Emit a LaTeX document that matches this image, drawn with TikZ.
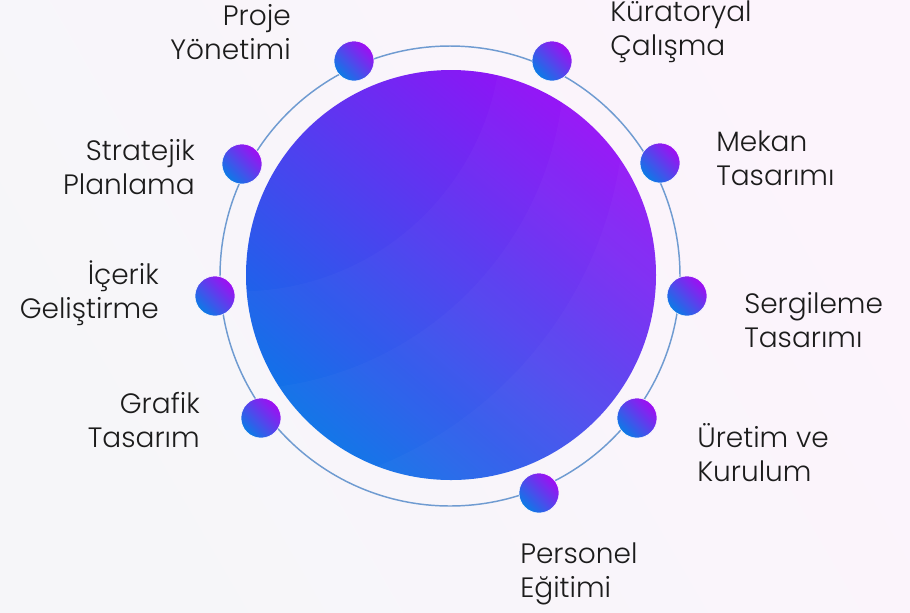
\documentclass[tikz,border=0pt]{standalone}
\usepackage{fontspec}
\setmainfont{Poppins}[UprightFont=*-Light]
\usetikzlibrary{positioning}
\definecolor{ringblue}{HTML}{6F9BD1}
\definecolor{dotblue}{HTML}{0B7BE6}
\definecolor{dotpurple}{HTML}{A00DF2}
\definecolor{hubblue}{HTML}{0A70E8}
\definecolor{hubmid}{HTML}{4A36EE}
\definecolor{hubpurple}{HTML}{9410F6}
\definecolor{labeltext}{HTML}{1C1C1C}
\definecolor{bgpink}{HTML}{FCF4FC}
\definecolor{bggray}{HTML}{F6F6F9}
\tikzset{
  dot/.style={circle,minimum size=30pt,inner sep=0pt,bottom color=dotblue,top color=dotpurple,shading angle=-45,draw=white,line width=.4pt},
  lbl/.style={font=\fontsize{21}{25.5}\selectfont,text=labeltext,inner sep=0pt},
  lleft/.style={lbl,anchor=east,align=right},
  lright/.style={lbl,anchor=west,align=left},
  ring/.style={draw=ringblue,line width=1.1pt},
  band/.style={fill=white,opacity=.025,even odd rule}
}
\begin{document}
\begin{tikzpicture}[x=0.75pt,y=-0.75pt]
  \useasboundingbox (0,0) rectangle (910,612);
  \shade[bottom color=bggray,middle color=white,top color=bgpink,shading angle=-60] (0,0) rectangle (910,612);

  % outer ring and hub
  \draw[ring] (450,276) circle[radius=172.5pt];
  \node[circle,minimum size=307.5pt,inner sep=0pt,bottom color=hubblue,middle color=hubmid,top color=hubpurple,shading angle=-40] (hub) at (451,275) {};
  \begin{scope}
    \clip (hub.center) circle[radius=153.75pt];
    \fill[band] (hub.center) circle[radius=153.75pt] (230,100) circle[radius=296pt];
    \fill[band] (hub.center) circle[radius=153.75pt] (235,60) circle[radius=247pt];
    \fill[band] (hub.center) circle[radius=153.75pt] (240,30) circle[radius=196pt];
  \end{scope}

  % dots on the ring
  \node[dot] (pm) at (354,61) {};
  \node[dot] (cw) at (552,61) {};
  \node[dot] (md) at (660,163) {};
  \node[dot] (ed) at (687,296) {};
  \node[dot] (pi) at (637,418) {};
  \node[dot] (st) at (539,493) {};
  \node[dot] (gd) at (261,418) {};
  \node[dot] (cd) at (215,296) {};
  \node[dot] (sp) at (242,164) {};

  % labels
  \node[lleft] (pmtext) at (291,32) {Proje\\Yönetimi};
  \node[lright] (cwtext) at (610,32) {Küratoryal\\Çalışma};
  \node[lright] (mdtext) at (716,158) {Mekan\\Tasarımı};
  \node[lright] (edtext) at (744,320) {Sergileme\\Tasarımı};
  \node[lright] (pitext) at (697,453) {Üretim ve\\Kurulum};
  \node[lright] (sttext) at (520,574) {Personel\\Eğitimi};
  \node[lleft] (gdtext) at (200,420) {Grafik\\Tasarım};
  \node[lleft] (cdtext) at (159,293) {İçerik\\Geliştirme};
  \node[lleft] (sptext) at (195,167) {Stratejik\\Planlama};
\end{tikzpicture}
\end{document}
